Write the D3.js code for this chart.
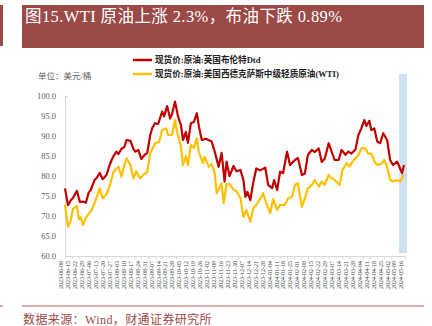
<!DOCTYPE html>
<html><head><meta charset="utf-8">
<script src="https://cdn.jsdelivr.net/npm/d3@7"></script>
<style>
html,body{margin:0;padding:0;background:#fff;}
svg{display:block;}
</style></head>
<body>
<svg id="c" width="432" height="326"></svg>
<script>
const titleText = "图15.WTI 原油上涨 2.3%，布油下跌 0.89%";
const sourceText = "数据来源：Wind，财通证券研究所";
const unitText = "单位：美元/桶";
const seriesNames = ["现货价:原油:英国布伦特Dtd", "现货价:原油:美国西德克萨斯中级轻质原油(WTI)"];
const startDate = "2023-06-08";
const xLabels = ["2023-06-08","2023-06-15","2023-06-22","2023-06-29","2023-07-06","2023-07-13","2023-07-20","2023-07-27","2023-08-03","2023-08-10","2023-08-17","2023-08-24","2023-08-31","2023-09-07","2023-09-14","2023-09-21","2023-09-28","2023-10-05","2023-10-12","2023-10-19","2023-10-26","2023-11-02","2023-11-09","2023-11-16","2023-11-23","2023-11-30","2023-12-07","2023-12-14","2023-12-21","2023-12-28","2024-01-04","2024-01-11","2024-01-18","2024-01-25","2024-02-01","2024-02-08","2024-02-15","2024-02-22","2024-02-29","2024-03-07","2024-03-14","2024-03-21","2024-03-28","2024-04-04","2024-04-11","2024-04-18","2024-04-25","2024-05-02","2024-05-09","2024-05-16"];
const yTicks = [60,65,70,75,80,85,90,95,100];
// days since start date
const brentDays = [0,3,6,8,12,15,18,21,24,26,30,32,35,38,42,44,47,49,52,54,57,60,62,66,69,71,74,77,80,83,86,88,91,94,98,100,103,106,108,111,114,117,119,122,124,127,130,133,135,138,142,148,151,155,158,161,163,166,170,173,177,180,182,184,187,190,193,197,202,205,209,211,214,217,220,224,227,232,235,239,242,245,249,252,256,259,262,266,269,272,276,279,283,286,289,293,296,299,302,304,307,309,312,315,318,321,325,328,331,335,337,340,342];
const brentValues = [76.9,72.7,74.0,74.5,76.3,73.5,73.6,73.3,75.9,76.5,79.1,79.5,80.8,79.2,80.3,82.0,84.0,85.0,86.1,85.5,86.8,87.3,89.0,88.8,86.8,86.1,86.5,84.25,85.2,85.8,90.25,92.0,93.2,93.0,96.1,94.9,97.5,94.4,95.5,98.6,94.9,92.75,89.0,91.0,88.3,93.2,93.5,95.7,92.5,89.0,89.3,88.6,86.1,82.3,85.8,78.6,83.6,80.0,82.5,81.2,81.5,79.0,74.8,76.0,74.0,78.5,81.9,81.4,82.1,77.75,77.0,79.0,76.5,81.1,80.7,86.1,82.75,84.0,84.5,80.25,80.6,85.25,86.5,86.0,86.9,83.5,84.3,88.2,86.1,84.0,84.0,86.5,85.3,86.1,85.6,86.6,90.25,91.9,94.0,92.5,93.8,91.5,91.9,88.6,88.2,90.7,89.0,84.0,82.75,83.6,82.5,80.7,82.75];
const wtiDays = [0,3,6,8,12,14,16,18,21,24,27,31,35,38,42,45,49,54,57,60,62,66,69,72,76,79,83,86,91,95,98,102,104,108,111,113,117,119,122,124,127,130,133,135,139,141,145,148,151,153,158,160,163,166,170,173,177,180,183,187,190,193,197,200,203,207,210,214,217,222,225,229,232,235,239,242,245,249,252,256,259,262,266,269,272,277,280,284,287,290,296,299,303,306,309,313,316,320,322,325,328,331,335,338,340,342];
const wtiValues = [72.75,67.3,69.0,71.8,72.5,69.2,69.7,67.75,69.5,70.6,71.5,74.0,76.9,74.4,75.5,77.5,81.1,82.3,79.8,82.8,84.4,82.8,79.4,81.2,79.4,80.3,81.0,85.7,88.2,88.5,91.5,91.9,90.25,90.25,94.0,91.1,87.3,82.75,85.0,82.75,87.75,87.0,89.4,86.0,83.2,84.8,82.3,83.0,80.7,75.7,78.2,73.2,78.0,78.0,76.6,76.2,74.4,69.8,71.5,68.6,72.0,72.8,74.4,75.7,73.2,70.7,74.2,71.5,72.8,72.8,74.4,74.8,77.75,78.2,72.3,74.4,76.9,77.75,79.0,77.3,78.6,77.75,80.25,79.4,79.0,77.75,81.5,83.2,82.4,83.6,85.25,86.9,86.9,85.6,85.6,83.2,82.75,83.2,84.0,82.3,79.0,78.6,79.0,78.6,79.5,80.25];
const highlightStart = "2024-05-10";
const highlightEnd = "2024-05-18";

const svg = d3.select("#c");
const serif = "'Liberation Serif','Times New Roman','Noto Sans CJK SC',serif";
const parse = d3.timeParse("%Y-%m-%d");
const t0 = parse(startDate);
const dayToDate = d => d3.timeDay.offset(t0, d);

const L = 65, R = 405, T = 96, B = 256;
const x = d3.scaleTime().domain([t0, parse(xLabels[xLabels.length-1])]).range([L, R]);
const y = d3.scaleLinear().domain([60, 100]).range([B, T]);

// title bar
svg.append("rect").attr("x",0).attr("y",5).attr("width",3).attr("height",41).attr("fill","#9B4A47");
svg.append("rect").attr("x",22).attr("y",5).attr("width",402).attr("height",43).attr("fill","#9B4A47");
svg.append("text").attr("x",25).attr("y",22).attr("fill","#fff")
  .attr("font-family",serif).attr("font-size",16.5).attr("letter-spacing",0.4).text(titleText);

// highlight band
svg.append("rect")
  .attr("x", x(parse(highlightStart))).attr("y", 74)
  .attr("width", x(parse(highlightEnd)) - x(parse(highlightStart))).attr("height", 179)
  .attr("fill","#CFE2F3");

// legend
const colors = ["#C00000", "#FFC000"];
seriesNames.forEach((n,i) => {
  const ly = 60 + i*14;
  svg.append("line").attr("x1",133).attr("x2",152).attr("y1",ly).attr("y2",ly)
    .attr("stroke",colors[i]).attr("stroke-width",2.5);
  svg.append("text").attr("x",155).attr("y",ly+3).attr("font-size",8.6)
    .attr("font-weight","bold").attr("font-family",serif).attr("fill","#222").text(n);
});

// unit
svg.append("text").attr("x",38).attr("y",79).attr("font-size",8.5)
  .attr("font-family",serif).attr("fill","#666").text(unitText);

// y axis
const yAxis = svg.append("g").attr("transform",`translate(${L},0)`)
  .call(d3.axisLeft(y).tickValues(yTicks).tickFormat(d3.format(".1f")).tickSize(0).tickPadding(9));
yAxis.select(".domain").attr("stroke","#d9d9d9");
yAxis.selectAll("text").attr("font-family",serif).attr("font-size",8.5).attr("fill","#595959");
svg.append("line").attr("x1",L).attr("x2",L+3).attr("y1",T+0.5).attr("y2",T+0.5).attr("stroke","#d9d9d9");

// x axis
const xAxis = svg.append("g").attr("transform",`translate(0,${B})`)
  .call(d3.axisBottom(x).tickValues(xLabels.map(parse)).tickFormat(d3.timeFormat("%Y-%m-%d")).tickSize(3).tickSizeOuter(0));
xAxis.select(".domain").attr("stroke","#d9d9d9");
xAxis.selectAll("line").attr("stroke","#d9d9d9");
xAxis.selectAll("text").attr("font-family",serif).attr("font-size",6).attr("fill","#404040")
  .attr("transform","rotate(-90)").attr("text-anchor","end").attr("dx","-0.5em").attr("dy","-0.35em").attr("y",0).attr("x",-2);

// lines
const line = d3.line().x(d => x(dayToDate(d[0]))).y(d => y(d[1]));
const wti = wtiDays.map((d,i)=>[d, wtiValues[i]]);
const brent = brentDays.map((d,i)=>[d, brentValues[i]]);
svg.append("path").datum(wti).attr("d",line).attr("fill","none").attr("stroke",colors[1]).attr("stroke-width",2.2).attr("stroke-linejoin","round");
svg.append("path").datum(brent).attr("d",line).attr("fill","none").attr("stroke",colors[0]).attr("stroke-width",2.2).attr("stroke-linejoin","round");

// bottom rule and source
svg.append("line").attr("x1",0).attr("x2",3).attr("y1",306).attr("y2",306).attr("stroke","#B5605B").attr("stroke-width",1);
svg.append("line").attr("x1",22).attr("x2",424).attr("y1",306).attr("y2",306).attr("stroke","#B5605B").attr("stroke-width",1);
svg.append("text").attr("x",23).attr("y",324).attr("font-size",12).attr("letter-spacing",0.4).attr("font-family",serif)
  .attr("fill","#9B4A47").text(sourceText);
</script>
</body></html>
